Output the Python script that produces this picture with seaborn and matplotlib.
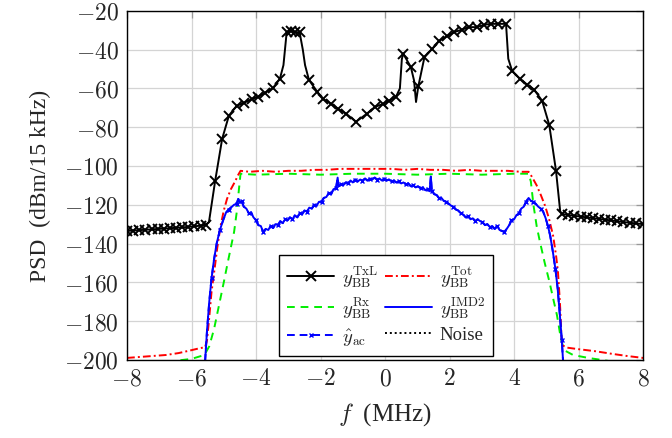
import matplotlib
matplotlib.use("Agg")
import matplotlib.pyplot as plt
import matplotlib.ticker as ticker
import seaborn as sns

# TxL leakage (black, x markers)
txl_f = [-8.00, -7.81, -7.62, -7.43, -7.24, -7.05, -6.86, -6.67, -6.48, -6.29,
         -6.10, -5.91, -5.72, -5.56, -5.46, -5.27, -5.05, -4.84, -4.60, -4.37,
         -4.12, -3.94, -3.72, -3.47, -3.26, -3.15, -3.05, -2.93, -2.78, -2.65,
         -2.55, -2.48, -2.36, -2.10, -1.92, -1.67, -1.46, -1.21, -0.90, -0.56,
         -0.31, -0.06, 0.12, 0.34, 0.46, 0.52, 0.56, 0.80, 0.90, 0.96,
         1.03, 1.22, 1.46, 1.68, 1.92, 2.14, 2.38, 2.60, 2.85, 3.07,
         3.29, 3.50, 3.75, 3.82, 3.94, 4.18, 4.40, 4.62, 4.87, 5.09,
         5.30, 5.43, 5.50, 5.68, 5.87, 6.06, 6.25, 6.44, 6.63, 6.82,
         7.01, 7.20, 7.39, 7.58, 7.77, 8.00]
txl_p = [-133.5, -133.3, -133.1, -132.9, -132.7, -132.5, -132.3, -132.1, -131.9, -131.7,
         -131.4, -131.1, -130.8, -130.3, -129.0, -108.0, -86.0, -74.0, -69.0, -67.4,
         -65.4, -64.3, -62.3, -59.7, -55.0, -48.0, -31.0, -30.5, -31.0, -31.0,
         -40.0, -48.0, -55.6, -61.8, -65.4, -68.0, -70.5, -73.0, -77.2, -73.0,
         -69.5, -68.0, -66.4, -64.3, -60.0, -45.0, -42.0, -49.0, -56.0, -67.0,
         -59.0, -44.0, -39.6, -35.5, -33.0, -31.0, -29.7, -28.4, -28.4, -27.2,
         -26.7, -26.7, -26.7, -44.7, -51.0, -55.0, -58.0, -60.6, -66.4, -78.8,
         -102.5, -123.5, -124.8, -125.3, -125.7, -126.1, -126.5, -126.9, -127.3, -127.7,
         -128.1, -128.5, -128.9, -129.3, -129.6, -130.0]
# bends of the TxL line that carry no marker
txl_bends = [-5.46, -3.15, -2.55, -2.48, 0.46, 0.52, 0.90, 0.96, 3.82, 5.43]

# total received signal (red dash-dot)
tot_f = [-8.00, -7.60, -7.20, -6.80, -6.40, -6.00, -5.75, -5.58, -5.52, -5.45,
         -5.38, -5.30, -5.20, -5.10, -5.00, -4.90, -4.78, -4.65, -4.55, -4.48,
         -4.20, -3.80, -3.40, -3.00, -2.60, -2.20, -1.80, -1.40, -1.00, -0.60,
         -0.20, 0.20, 0.60, 1.00, 1.40, 1.80, 2.20, 2.60, 3.00, 3.40,
         3.80, 4.20, 4.45, 4.55, 4.70, 4.83, 4.96, 5.08, 5.21, 5.30,
         5.36, 5.42, 5.47, 5.50, 5.64, 6.00, 6.50, 7.00, 7.50, 8.00]
tot_p = [-199.0, -198.5, -198.0, -197.5, -196.5, -195.0, -194.0, -193.5, -190.0, -178.0,
         -165.0, -155.0, -142.0, -131.0, -123.0, -117.0, -112.0, -108.0, -104.5, -102.5,
         -103.0, -102.5, -103.0, -102.5, -102.5, -102.0, -102.0, -101.5, -101.5, -101.5,
         -101.5, -101.5, -102.0, -101.5, -102.0, -102.0, -102.5, -102.0, -102.5, -102.5,
         -102.5, -103.0, -103.0, -105.5, -110.0, -115.0, -120.5, -127.0, -136.0, -146.0,
         -154.5, -170.0, -188.0, -192.5, -193.7, -194.5, -195.5, -196.8, -198.0, -199.0]

# desired Rx signal (green dashed)
rx_f = [-8.00, -7.00, -6.50, -6.00, -5.60, -5.45, -5.30, -5.15, -5.00, -4.88,
        -4.78, -4.68, -4.60, -4.53, -4.48, -4.00, -3.00, -2.00, -1.00, 0.00,
        1.00, 2.00, 3.00, 4.00, 4.45, 4.52, 4.60, 4.70, 4.80, 4.95,
        5.10, 5.22, 5.33, 5.45, 5.55, 5.83, 6.30, 6.90, 8.00]
rx_p = [-205.0, -203.0, -200.5, -199.5, -197.5, -193.0, -184.0, -172.0, -160.0, -150.0,
        -142.0, -134.0, -124.0, -112.0, -104.0, -104.5, -104.0, -104.5, -104.0, -104.0,
        -104.5, -104.0, -104.5, -104.0, -104.0, -108.0, -120.0, -131.0, -139.0, -150.0,
        -160.0, -169.0, -177.0, -189.0, -195.0, -197.5, -199.0, -200.5, -204.0]

# IMD2 (blue solid) and its estimate (blue dashed, markers)
imd_f = [-5.58, -5.52, -5.45, -5.38, -5.30, -5.22, -5.12, -5.02, -4.93, -4.85,
         -4.75, -4.68, -4.60, -4.55, -4.50, -4.45, -4.38, -4.30, -4.22, -4.15,
         -4.08, -4.00, -3.93, -3.85, -3.78, -3.70, -3.62, -3.55, -3.47, -3.40,
         -3.32, -3.25, -3.17, -3.10, -3.02, -2.95, -2.87, -2.80, -2.72, -2.65,
         -2.57, -2.50, -2.42, -2.35, -2.27, -2.20, -2.12, -2.05, -1.97, -1.90,
         -1.82, -1.75, -1.67, -1.60, -1.52, -1.47, -1.44, -1.37, -1.30, -1.22,
         -1.15, -1.07, -1.00, -0.92, -0.85, -0.77, -0.70, -0.62, -0.55, -0.47,
         -0.40, -0.32, -0.25, -0.17, -0.10, -0.02, 0.05, 0.12, 0.20, 0.27,
         0.35, 0.42, 0.50, 0.57, 0.65, 0.72, 0.80, 0.87, 0.95, 1.02,
         1.10, 1.17, 1.25, 1.32, 1.38, 1.42, 1.45, 1.52, 1.60, 1.67,
         1.75, 1.82, 1.90, 1.97, 2.05, 2.12, 2.20, 2.27, 2.35, 2.42,
         2.50, 2.57, 2.65, 2.72, 2.80, 2.87, 2.95, 3.02, 3.10, 3.17,
         3.25, 3.32, 3.40, 3.47, 3.55, 3.62, 3.70, 3.77, 3.85, 3.92,
         4.00, 4.07, 4.15, 4.22, 4.30, 4.37, 4.45, 4.52, 4.60, 4.67,
         4.75, 4.83, 4.90, 4.98, 5.05, 5.12, 5.20, 5.28, 5.35, 5.42,
         5.48, 5.52]
imd_p = [-201.0, -185.0, -170.0, -158.0, -148.0, -140.0, -133.0, -128.0, -124.0, -122.5,
         -121.0, -120.0, -119.5, -117.0, -119.0, -118.0, -121.0, -122.0, -124.5, -124.0,
         -126.5, -128.0, -130.5, -131.0, -134.0, -132.5, -133.0, -131.0, -132.0, -130.0,
         -130.5, -128.5, -129.5, -127.5, -128.0, -126.5, -127.5, -125.5, -126.5, -124.5,
         -125.0, -123.0, -123.5, -121.5, -122.0, -120.0, -120.5, -118.5, -118.5, -116.5,
         -116.0, -114.0, -114.5, -112.0, -111.5, -106.0, -110.5, -109.5, -110.0, -108.5,
         -109.0, -107.5, -108.5, -107.0, -108.0, -107.0, -107.5, -106.5, -107.5, -106.5,
         -107.0, -106.0, -107.0, -106.5, -107.5, -106.5, -107.5, -107.0, -108.0, -107.5,
         -108.5, -108.0, -109.0, -108.5, -109.5, -109.0, -110.5, -110.0, -111.0, -110.5,
         -111.5, -111.0, -112.5, -112.0, -113.0, -105.5, -113.0, -114.5, -115.0, -116.5,
         -116.5, -118.0, -118.5, -119.5, -120.5, -121.0, -122.5, -123.0, -124.5, -125.0,
         -126.5, -126.0, -127.5, -127.0, -128.5, -127.5, -128.5, -129.0, -130.5, -130.0,
         -131.5, -131.0, -132.5, -131.0, -133.0, -133.5, -134.0, -132.5, -130.5, -128.0,
         -127.5, -125.5, -124.5, -122.0, -121.0, -118.5, -116.5, -118.0, -118.5, -119.5,
         -121.0, -122.0, -123.5, -127.0, -131.0, -136.0, -144.0, -153.0, -163.0, -177.0,
         -190.0, -201.0]

# thermal noise floor (below the visible range)
noise_f = [-8.0, 8.0]
noise_p = [-206.0, -206.0]

x_ticks = [-8, -6, -4, -2, 0, 2, 4, 6, 8]
y_ticks = [-200, -180, -160, -140, -120, -100, -80, -60, -40, -20]

lbl_txl = r"$y_{\mathrm{BB}}^{\mathrm{TxL}}$"
lbl_rx = r"$y_{\mathrm{BB}}^{\mathrm{Rx}}$"
lbl_ac = r"$\hat{y}_{\mathrm{ac}}$"
lbl_tot = r"$y_{\mathrm{BB}}^{\mathrm{Tot}}$"
lbl_imd = r"$y_{\mathrm{BB}}^{\mathrm{IMD2}}$"
lbl_noise = "Noise"

sns.set_theme(style="white")
plt.rcParams["mathtext.fontset"] = "cm"
plt.rcParams["font.family"] = ["Liberation Serif", "DejaVu Serif"]

fig = plt.figure(figsize=(6.72, 4.39), dpi=100)
ax = fig.add_axes([0.189, 0.178, 0.768, 0.795])


def draw(xs, ys, color, dashes=None, **style):
    before = list(ax.get_lines())
    sns.lineplot(x=xs, y=ys, sort=False, estimator=None, ax=ax, color=color,
                 lw=1.4, legend=False)
    line = [l for l in ax.get_lines() if l not in before][0]
    if dashes is not None:
        line.set_dashes(dashes)
    for k, v in style.items():
        getattr(line, "set_" + k)(v)
    # seaborn paints marker edges white by default
    line.set_markeredgecolor(color)
    line.set_markerfacecolor(color)
    return line


mark_idx = [i for i, f in enumerate(txl_f) if f not in txl_bends]

h_txl = draw(txl_f, txl_p, "black", marker="x", markersize=7,
             markeredgewidth=1.4, markevery=mark_idx)
h_rx = draw(rx_f, rx_p, "#00ee00", dashes=(4, 3))
h_tot = draw(tot_f, tot_p, "red", dashes=(4, 1.6, 1, 1.6))
h_imd = draw(imd_f, imd_p, "blue")
h_ac = draw(imd_f, imd_p, "blue", dashes=(4, 2.5), marker="x", markersize=3.5,
            markeredgewidth=1.0, markevery=3)
h_noise = draw(noise_f, noise_p, "black", dashes=(1, 1.5))

ax.set_xlim(-8, 8)
ax.set_ylim(-200, -20)
ax.set_xticks(x_ticks)
ax.set_yticks(y_ticks)
fmt = ticker.FuncFormatter(lambda v, pos: rf"${v:g}$")
ax.xaxis.set_major_formatter(fmt)
ax.yaxis.set_major_formatter(fmt)
ax.grid(True, color="#d4d4d4", lw=0.9)
ax.tick_params(direction="in", length=5, width=0.9, color="#999999",
               top=True, right=True, labelsize=17, pad=6)
for sp in ax.spines.values():
    sp.set_color("black")
    sp.set_linewidth(1.0)

ax.set_xlabel(r"$f$  (MHz)", fontsize=18, labelpad=8)
ax.set_ylabel("PSD  (dBm/15 kHz)", fontsize=17, labelpad=9)

handles = [h_txl, h_rx, h_ac, h_tot, h_imd, h_noise]
labels = [lbl_txl, lbl_rx, lbl_ac, lbl_tot, lbl_imd, lbl_noise]
leg = ax.legend(handles, labels, ncol=2, loc="lower center",
                bbox_to_anchor=(0.502, 0.011), borderaxespad=0, fontsize=13.5,
                fancybox=False, framealpha=1, edgecolor="black",
                handlelength=2.5, columnspacing=0.4, labelspacing=0.3,
                borderpad=0.45, handletextpad=0.4)
leg.get_frame().set_linewidth(1.0)

fig.savefig("out.png", dpi=100)
